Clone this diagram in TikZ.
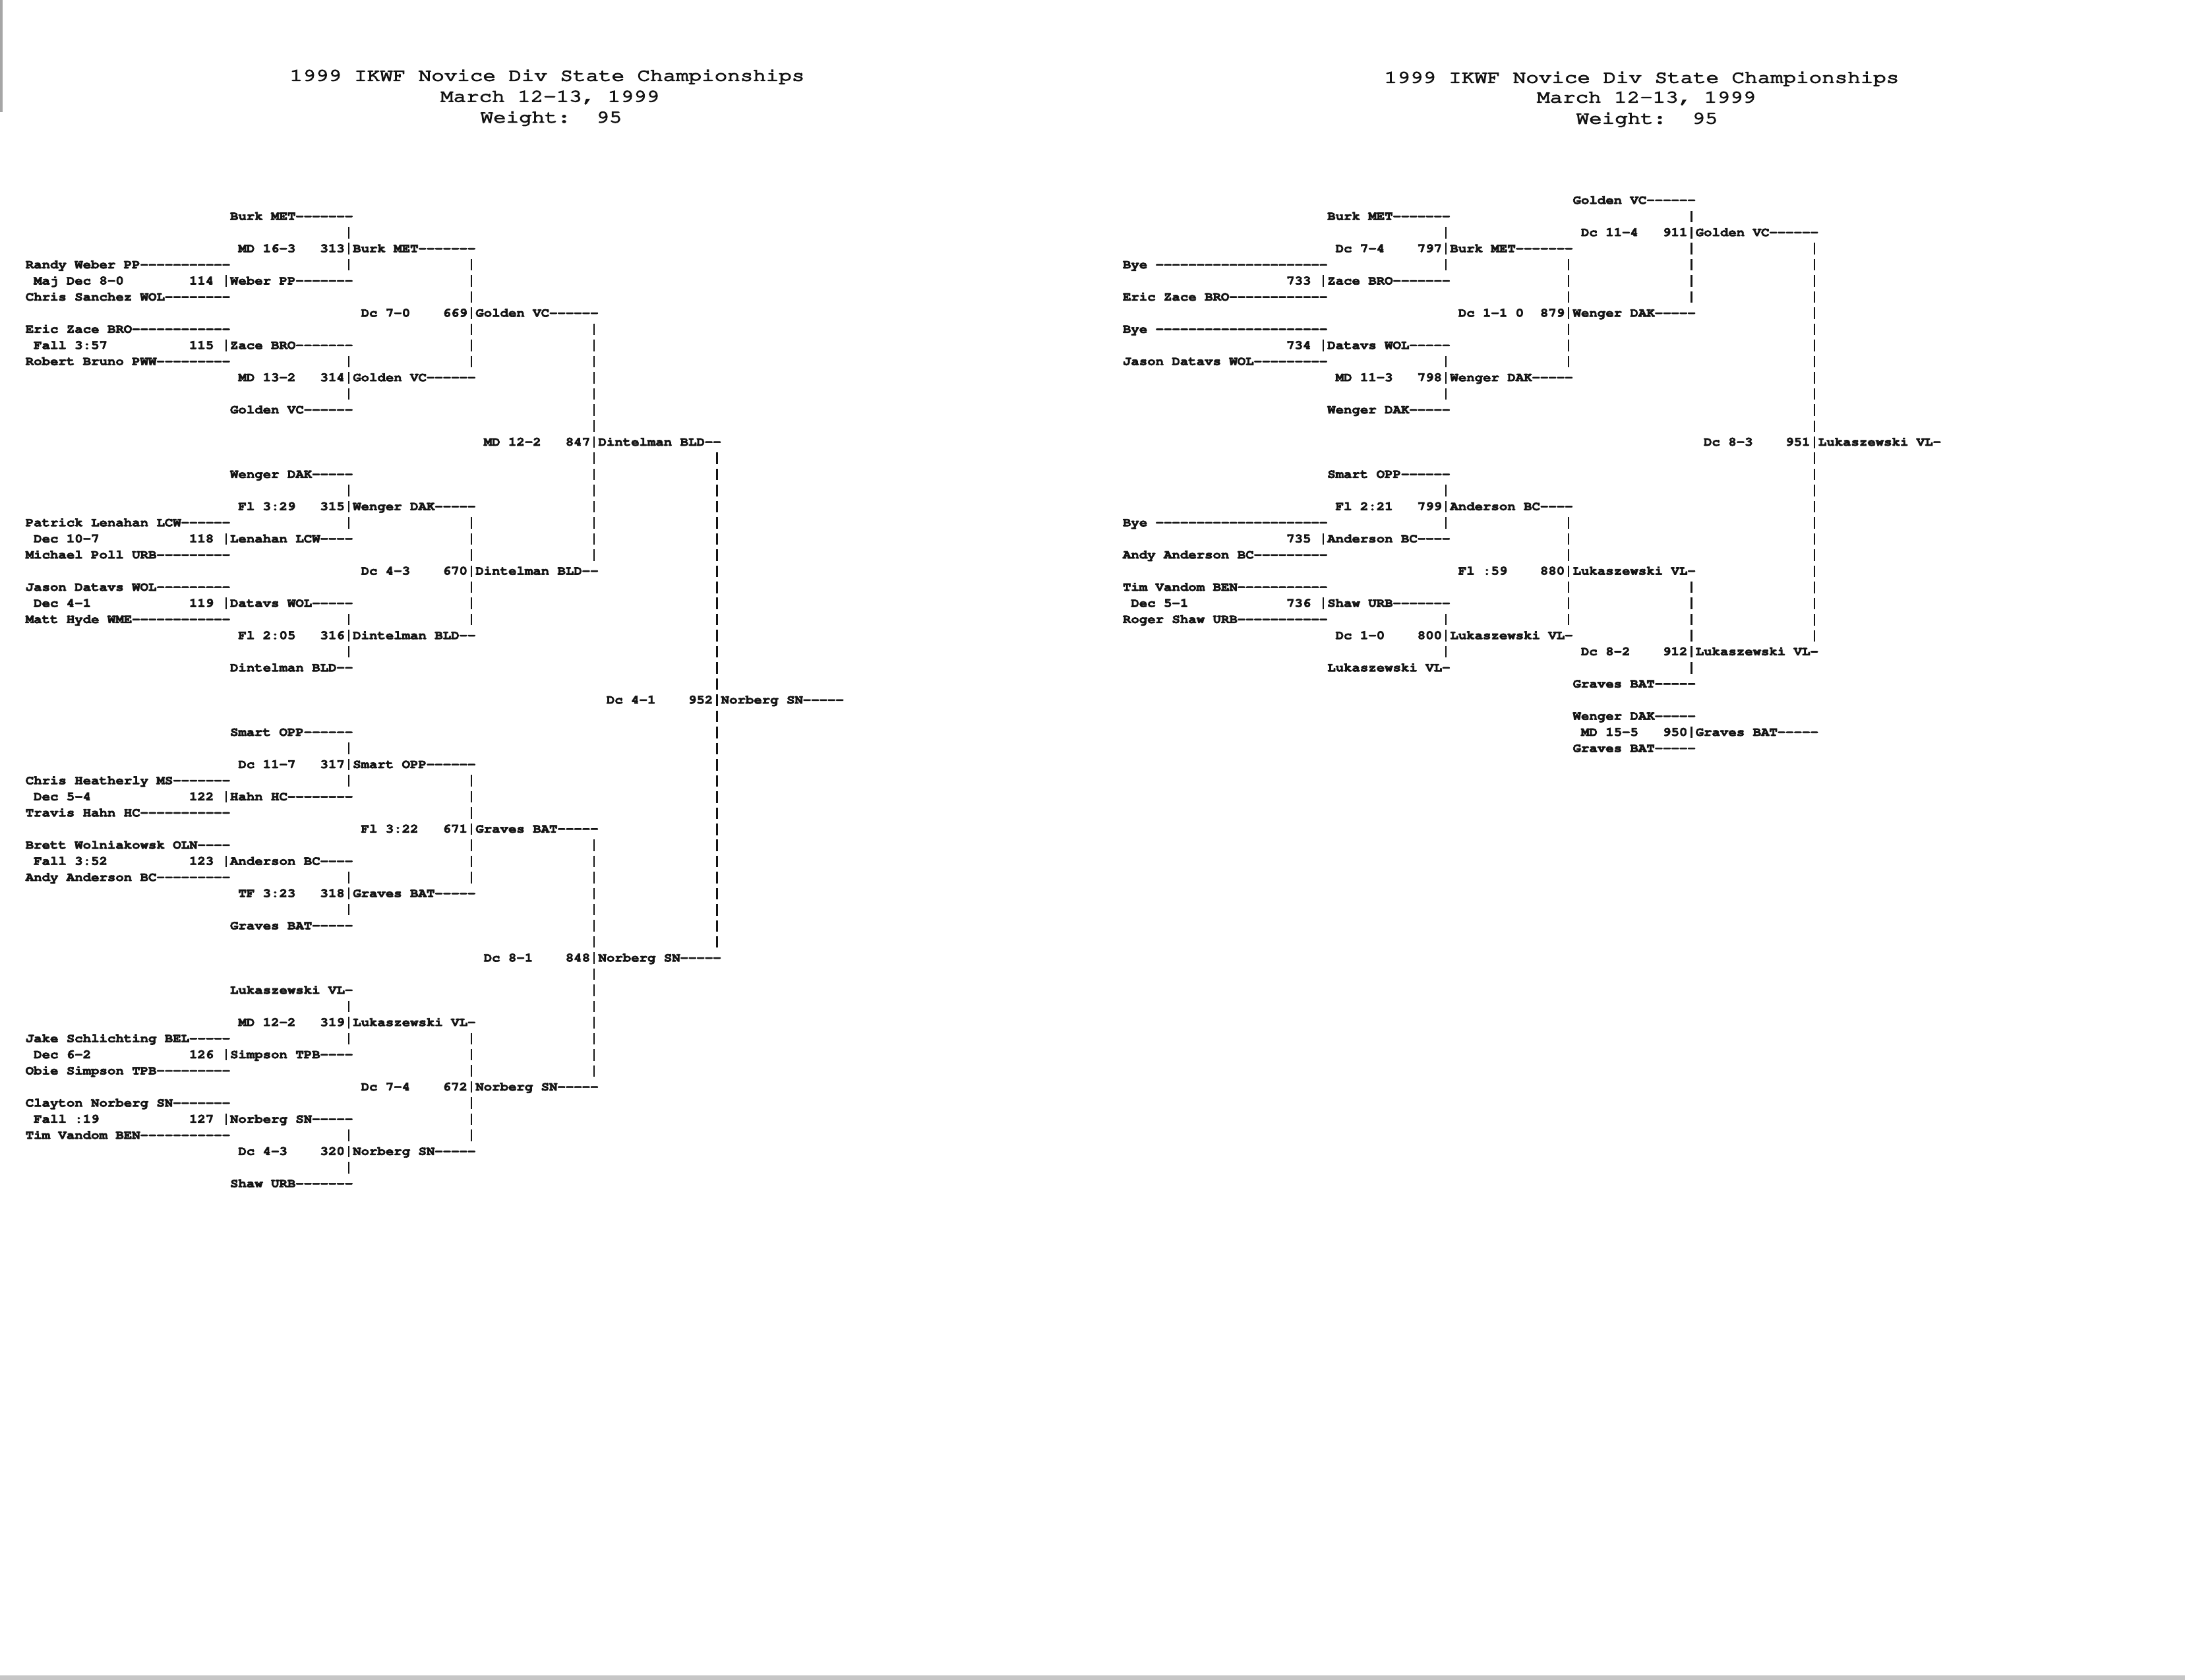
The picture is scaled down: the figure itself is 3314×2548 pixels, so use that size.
\documentclass[tikz,border=0pt]{standalone}
\usepackage[T1,TU]{fontenc}
\usepackage{graphicx}
\definecolor{ink}{gray}{0.08}
\newcommand\brkfont{\fontencoding{T1}\fontfamily{pcr}\fontseries{b}\fontshape{n}\fontsize{5.885pt}{7pt}\selectfont}
\newcommand\ttlfont{\fontencoding{T1}\fontfamily{pcr}\fontseries{m}\fontshape{n}\fontsize{9.25pt}{11pt}\selectfont}
\ExplSyntaxOn
\cs_new:Npn \dsh #1 { \prg_replicate:nn {#1} { -\kern0pt } }
\ExplSyntaxOff
\newcommand\fat[2]{\special{pdf:literal direct #1 w 2 Tr}#2\special{pdf:literal direct 0 Tr}}
\def\cw{12.41}
\def\rh{24.45}
\def\ryz{328.3}
\def\xL{38.8}
\def\xR{1703}
\tikzset{
  brk/.style={anchor=base west, inner sep=0pt, outer sep=0pt, font=\brkfont, text=ink},
  ttl/.style={anchor=base, inner sep=0pt, outer sep=0pt, font=\ttlfont, text=ink},
  bar/.style={draw=ink, line width=0.22mm, dash pattern=on 1.75mm off 0.695mm},
}
\newcommand\tl[4]{\node[brk] (#1) at ({\xL+(#2)*\cw},{\ryz+(#3)*\rh+5.35}) {\scalebox{1}[0.92]{\fat{0.2}{#4}}};}
\newcommand\tr[4]{\node[brk] (#1) at ({\xR+(#2)*\cw},{\ryz+(#3)*\rh+5.35}) {\scalebox{1}[0.92]{\fat{0.2}{#4}}};}
\newcommand\ttltext[1]{\scalebox{1}[0.82]{\fat{0.4}{#1}}}
\newcommand\vb[5]{%
  \coordinate (#1t) at ({#2+(#3+0.5)*\cw},{\ryz+(#4)*\rh-8.75});
  \coordinate (#1b) at ({#2+(#3+0.5)*\cw},{\ryz+(#5)*\rh+8.75});
  \draw[bar] (#1t) -- (#1b);}
\begin{document}
\begin{tikzpicture}[x=0.01cm, y=-0.01cm]
\useasboundingbox (0,0) rectangle (3314,2548);
\fill[white] (0,0) rectangle (3314,2548);
% page edges
\draw[gray!70, line width=0.4mm] (2,0) -- (2,170);
\fill[gray!45] (0,2541) rectangle (3314,2548);
% titles
\node[ttl] (tL1) at (830,122.5) {\ttltext{1999 IKWF Novice Div State Championships}};
\node[ttl] (tL2) at (834,154.2) {\ttltext{March 12-13, 1999}};
\node[ttl] (tL3) at (836,185.8) {\ttltext{Weight:\ \ 95}};
\node[ttl] (tR1) at (2490,125.5) {\ttltext{1999 IKWF Novice Div State Championships}};
\node[ttl] (tR2) at (2497,155.5) {\ttltext{March 12-13, 1999}};
\node[ttl] (tR3) at (2498,187.5) {\ttltext{Weight:\ \ 95}};
% ================= LEFT BRACKET =================
\tl{a0}{25}{0}{Burk MET\dsh7}
\tl{a2m}{26}{2}{MD 16-3}\tl{a2n}{36}{2}{313}\tl{a2w}{40}{2}{Burk MET\dsh7}
\tl{a3}{0}{3}{Randy Weber PP\dsh{11}}
\tl{a4m}{1}{4}{Maj Dec 8-0}\tl{a4n}{20}{4}{114}\tl{a4w}{25}{4}{Weber PP\dsh7}
\tl{a5}{0}{5}{Chris Sanchez WOL\dsh8}
\tl{a6m}{41}{6}{Dc 7-0}\tl{a6n}{51}{6}{669}\tl{a6w}{55}{6}{Golden VC\dsh6}
\tl{a7}{0}{7}{Eric Zace BRO\dsh{12}}
\tl{a8m}{1}{8}{Fall 3:57}\tl{a8n}{20}{8}{115}\tl{a8w}{25}{8}{Zace BRO\dsh7}
\tl{a9}{0}{9}{Robert Bruno PWW\dsh9}
\tl{a10m}{26}{10}{MD 13-2}\tl{a10n}{36}{10}{314}\tl{a10w}{40}{10}{Golden VC\dsh6}
\tl{a12}{25}{12}{Golden VC\dsh6}
\tl{a14m}{56}{14}{MD 12-2}\tl{a14n}{66}{14}{847}\tl{a14w}{70}{14}{Dintelman BLD\dsh2}
\tl{a16}{25}{16}{Wenger DAK\dsh5}
\tl{a18m}{26}{18}{Fl 3:29}\tl{a18n}{36}{18}{315}\tl{a18w}{40}{18}{Wenger DAK\dsh5}
\tl{a19}{0}{19}{Patrick Lenahan LCW\dsh6}
\tl{a20m}{1}{20}{Dec 10-7}\tl{a20n}{20}{20}{118}\tl{a20w}{25}{20}{Lenahan LCW\dsh4}
\tl{a21}{0}{21}{Michael Poll URB\dsh9}
\tl{a22m}{41}{22}{Dc 4-3}\tl{a22n}{51}{22}{670}\tl{a22w}{55}{22}{Dintelman BLD\dsh2}
\tl{a23}{0}{23}{Jason Datavs WOL\dsh9}
\tl{a24m}{1}{24}{Dec 4-1}\tl{a24n}{20}{24}{119}\tl{a24w}{25}{24}{Datavs WOL\dsh5}
\tl{a25}{0}{25}{Matt Hyde WME\dsh{12}}
\tl{a26m}{26}{26}{Fl 2:05}\tl{a26n}{36}{26}{316}\tl{a26w}{40}{26}{Dintelman BLD\dsh2}
\tl{a28}{25}{28}{Dintelman BLD\dsh2}
\tl{a30m}{71}{30}{Dc 4-1}\tl{a30n}{81}{30}{952}\tl{a30w}{85}{30}{Norberg SN\dsh5}
\tl{a32}{25}{32}{Smart OPP\dsh6}
\tl{a34m}{26}{34}{Dc 11-7}\tl{a34n}{36}{34}{317}\tl{a34w}{40}{34}{Smart OPP\dsh6}
\tl{a35}{0}{35}{Chris Heatherly MS\dsh7}
\tl{a36m}{1}{36}{Dec 5-4}\tl{a36n}{20}{36}{122}\tl{a36w}{25}{36}{Hahn HC\dsh8}
\tl{a37}{0}{37}{Travis Hahn HC\dsh{11}}
\tl{a38m}{41}{38}{Fl 3:22}\tl{a38n}{51}{38}{671}\tl{a38w}{55}{38}{Graves BAT\dsh5}
\tl{a39}{0}{39}{Brett Wolniakowsk OLN\dsh4}
\tl{a40m}{1}{40}{Fall 3:52}\tl{a40n}{20}{40}{123}\tl{a40w}{25}{40}{Anderson BC\dsh4}
\tl{a41}{0}{41}{Andy Anderson BC\dsh9}
\tl{a42m}{26}{42}{TF 3:23}\tl{a42n}{36}{42}{318}\tl{a42w}{40}{42}{Graves BAT\dsh5}
\tl{a44}{25}{44}{Graves BAT\dsh5}
\tl{a46m}{56}{46}{Dc 8-1}\tl{a46n}{66}{46}{848}\tl{a46w}{70}{46}{Norberg SN\dsh5}
\tl{a48}{25}{48}{Lukaszewski VL\dsh1}
\tl{a50m}{26}{50}{MD 12-2}\tl{a50n}{36}{50}{319}\tl{a50w}{40}{50}{Lukaszewski VL\dsh1}
\tl{a51}{0}{51}{Jake Schlichting BEL\dsh5}
\tl{a52m}{1}{52}{Dec 6-2}\tl{a52n}{20}{52}{126}\tl{a52w}{25}{52}{Simpson TPB\dsh4}
\tl{a53}{0}{53}{Obie Simpson TPB\dsh9}
\tl{a54m}{41}{54}{Dc 7-4}\tl{a54n}{51}{54}{672}\tl{a54w}{55}{54}{Norberg SN\dsh5}
\tl{a55}{0}{55}{Clayton Norberg SN\dsh7}
\tl{a56m}{1}{56}{Fall :19}\tl{a56n}{20}{56}{127}\tl{a56w}{25}{56}{Norberg SN\dsh5}
\tl{a57}{0}{57}{Tim Vandom BEN\dsh{11}}
\tl{a58m}{26}{58}{Dc 4-3}\tl{a58n}{36}{58}{320}\tl{a58w}{40}{58}{Norberg SN\dsh5}
\tl{a60}{25}{60}{Shaw URB\dsh7}
% left bars
\vb{la1}{\xL}{39}{1}{3}\vb{la2}{\xL}{39}{9}{11}\vb{la3}{\xL}{39}{17}{19}\vb{la4}{\xL}{39}{25}{27}
\vb{la5}{\xL}{39}{33}{35}\vb{la6}{\xL}{39}{41}{43}\vb{la7}{\xL}{39}{49}{51}\vb{la8}{\xL}{39}{57}{59}
\vb{lp1}{\xL}{24}{4}{4}\vb{lp2}{\xL}{24}{8}{8}\vb{lp3}{\xL}{24}{20}{20}\vb{lp4}{\xL}{24}{24}{24}
\vb{lp5}{\xL}{24}{36}{36}\vb{lp6}{\xL}{24}{40}{40}\vb{lp7}{\xL}{24}{52}{52}\vb{lp8}{\xL}{24}{56}{56}
\vb{lb1}{\xL}{54}{3}{9}\vb{lb2}{\xL}{54}{19}{25}\vb{lb3}{\xL}{54}{35}{41}\vb{lb4}{\xL}{54}{51}{57}
\vb{lc1}{\xL}{69}{7}{21}\vb{lc2}{\xL}{69}{39}{53}
\vb{ld1}{\xL}{84}{15}{45}
% ================= RIGHT BRACKET =================
\tr{b00}{55}{-1}{Golden VC\dsh6}
\tr{b0}{25}{0}{Burk MET\dsh7}
\tr{b1m}{56}{1}{Dc 11-4}\tr{b1n}{66}{1}{911}\tr{b1w}{70}{1}{Golden VC\dsh6}
\tr{b2m}{26}{2}{Dc 7-4}\tr{b2n}{36}{2}{797}\tr{b2w}{40}{2}{Burk MET\dsh7}
\tr{b3}{0}{3}{Bye \dsh{21}}
\tr{b4n}{20}{4}{733}\tr{b4w}{25}{4}{Zace BRO\dsh7}
\tr{b5}{0}{5}{Eric Zace BRO\dsh{12}}
\tr{b6m}{41}{6}{Dc 1-1 0}\tr{b6n}{51}{6}{879}\tr{b6w}{55}{6}{Wenger DAK\dsh5}
\tr{b7}{0}{7}{Bye \dsh{21}}
\tr{b8n}{20}{8}{734}\tr{b8w}{25}{8}{Datavs WOL\dsh5}
\tr{b9}{0}{9}{Jason Datavs WOL\dsh9}
\tr{b10m}{26}{10}{MD 11-3}\tr{b10n}{36}{10}{798}\tr{b10w}{40}{10}{Wenger DAK\dsh5}
\tr{b12}{25}{12}{Wenger DAK\dsh5}
\tr{b14m}{71}{14}{Dc 8-3}\tr{b14n}{81}{14}{951}\tr{b14w}{85}{14}{Lukaszewski VL\dsh1}
\tr{b16}{25}{16}{Smart OPP\dsh6}
\tr{b18m}{26}{18}{Fl 2:21}\tr{b18n}{36}{18}{799}\tr{b18w}{40}{18}{Anderson BC\dsh4}
\tr{b19}{0}{19}{Bye \dsh{21}}
\tr{b20n}{20}{20}{735}\tr{b20w}{25}{20}{Anderson BC\dsh4}
\tr{b21}{0}{21}{Andy Anderson BC\dsh9}
\tr{b22m}{41}{22}{Fl :59}\tr{b22n}{51}{22}{880}\tr{b22w}{55}{22}{Lukaszewski VL\dsh1}
\tr{b23}{0}{23}{Tim Vandom BEN\dsh{11}}
\tr{b24m}{1}{24}{Dec 5-1}\tr{b24n}{20}{24}{736}\tr{b24w}{25}{24}{Shaw URB\dsh7}
\tr{b25}{0}{25}{Roger Shaw URB\dsh{11}}
\tr{b26m}{26}{26}{Dc 1-0}\tr{b26n}{36}{26}{800}\tr{b26w}{40}{26}{Lukaszewski VL\dsh1}
\tr{b27m}{56}{27}{Dc 8-2}\tr{b27n}{66}{27}{912}\tr{b27w}{70}{27}{Lukaszewski VL\dsh1}
\tr{b28}{25}{28}{Lukaszewski VL\dsh1}
\tr{b29}{55}{29}{Graves BAT\dsh5}
\tr{b31}{55}{31}{Wenger DAK\dsh5}
\tr{b32m}{56}{32}{MD 15-5}\tr{b32n}{66}{32}{950}\tr{b32w}{70}{32}{Graves BAT\dsh5}
\tr{b33}{55}{33}{Graves BAT\dsh5}
% right bars
\vb{rp1}{\xR}{24}{4}{4}\vb{rp2}{\xR}{24}{8}{8}\vb{rp3}{\xR}{24}{20}{20}\vb{rp4}{\xR}{24}{24}{24}
\vb{ra1}{\xR}{39}{1}{3}\vb{ra2}{\xR}{39}{9}{11}\vb{ra3}{\xR}{39}{17}{19}\vb{ra4}{\xR}{39}{25}{27}
\vb{rb1}{\xR}{54}{3}{9}\vb{rb2}{\xR}{54}{19}{25}
\vb{rc1}{\xR}{69}{0}{5}\vb{rc2}{\xR}{69}{23}{28}\vb{rc3}{\xR}{69}{32}{32}
\vb{rd1}{\xR}{84}{2}{26}
\end{tikzpicture}
\end{document}
